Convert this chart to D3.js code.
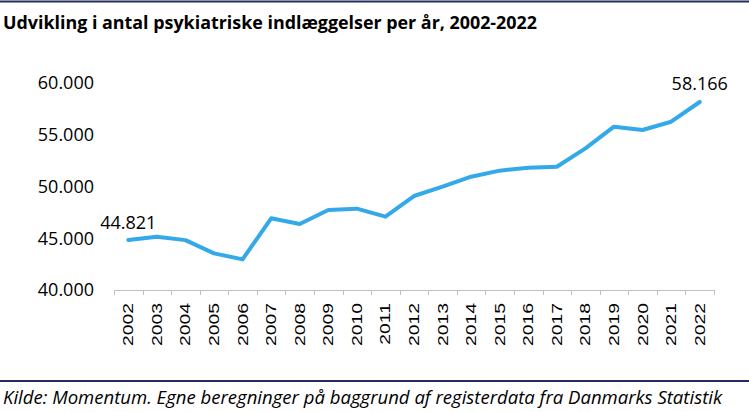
<!DOCTYPE html>
<html><head><meta charset="utf-8">
<script src="https://cdn.jsdelivr.net/npm/d3@7"></script>
<style>body{margin:0;background:#fff}svg{display:block}</style>
</head><body>
<svg id="c" width="749" height="412"></svg>
<script>
const years = ["2002","2003","2004","2005","2006","2007","2008","2009","2010","2011","2012","2013","2014","2015","2016","2017","2018","2019","2020","2021","2022"];
const admissions = [44821,45150,44820,43540,42960,46930,46380,47730,47860,47090,49080,49980,50950,51530,51820,51910,53690,55780,55460,56260,58166];
const yTicks = [40000,45000,50000,55000,60000];
const labelled = ["2002","2022"];
const titleText = "Udvikling i antal psykiatriske indlæggelser per år, 2002-2022";
const sourceText = "Kilde: Momentum. Egne beregninger på baggrund af registerdata fra Danmarks Statistik";

const svg = d3.select("#c");
const font = "'Open Sans', sans-serif";
const navy = "#1f2d5c";

svg.append("line").attr("x1",0).attr("x2",749).attr("y1",1.5).attr("y2",1.5).attr("stroke",navy).attr("stroke-width",2);
svg.append("line").attr("x1",0).attr("x2",749).attr("y1",381).attr("y2",381).attr("stroke",navy).attr("stroke-width",2);

svg.append("text").attr("x",3).attr("y",28.5).attr("font-family",font).attr("font-weight","bold")
  .attr("font-size",18).attr("fill","#000").attr("textLength",534).attr("lengthAdjust","spacingAndGlyphs").text(titleText);

svg.append("text").attr("x",3).attr("y",404).attr("font-family",font).attr("font-style","italic")
  .attr("font-size",18).attr("fill","#000").attr("textLength",719).attr("lengthAdjust","spacingAndGlyphs").text(sourceText);

const x = d3.scaleBand().domain(years).range([114,714]);
const y = d3.scaleLinear().domain([40000,60000]).range([290,83]);
const fmt = v => d3.format(",")(v).replace(/,/g,".");

// y tick labels
svg.append("g").selectAll("text").data(yTicks).join("text")
  .attr("x",94).attr("y",d=>y(d)).attr("dy","0.36em").attr("text-anchor","end")
  .attr("font-family",font).attr("font-size",18).attr("fill","#000").text(fmt);

// x axis
const xAxis = d3.axisBottom(x).tickSize(0).tickFormat(d=>d);
const gx = svg.append("g").attr("transform","translate(0,290)").call(xAxis);
gx.select(".domain").attr("stroke","#bfbfbf").attr("d","M114,0.5H714");
const bounds = years.map(d=>x(d)).concat([x.range()[1]]);
gx.selectAll("line.bd").data(bounds).join("line").attr("class","bd")
  .attr("x1",d=>Math.round(d)+0.5).attr("x2",d=>Math.round(d)+0.5).attr("y1",0).attr("y2",5).attr("stroke","#bfbfbf");
gx.selectAll(".tick text").attr("transform","rotate(-90) scale(1.38,1)").attr("x",-9.5).attr("y",0).attr("dy","0.36em")
  .attr("text-anchor","end").attr("font-family","'Liberation Sans', Arial, sans-serif").attr("font-size",14).attr("fill","#000");
gx.selectAll(".tick").attr("transform",d=>`translate(${x(d)+x.bandwidth()/2},0)`);

// line
const line = d3.line().x((d,i)=>x(years[i])+x.bandwidth()/2).y(d=>y(d));
svg.append("path").datum(admissions).attr("d",line).attr("fill","none")
  .attr("stroke","#33a9ea").attr("stroke-width",4).attr("stroke-linejoin","round").attr("stroke-linecap","round");

// data labels
svg.append("g").selectAll("text").data(labelled).join("text")
  .attr("x",d=>x(d)+x.bandwidth()/2).attr("y",d=>y(admissions[years.indexOf(d)])-11.5)
  .attr("text-anchor","middle").attr("font-family",font).attr("font-size",18).attr("fill","#000")
  .text(d=>fmt(admissions[years.indexOf(d)]));
</script>
</body></html>
